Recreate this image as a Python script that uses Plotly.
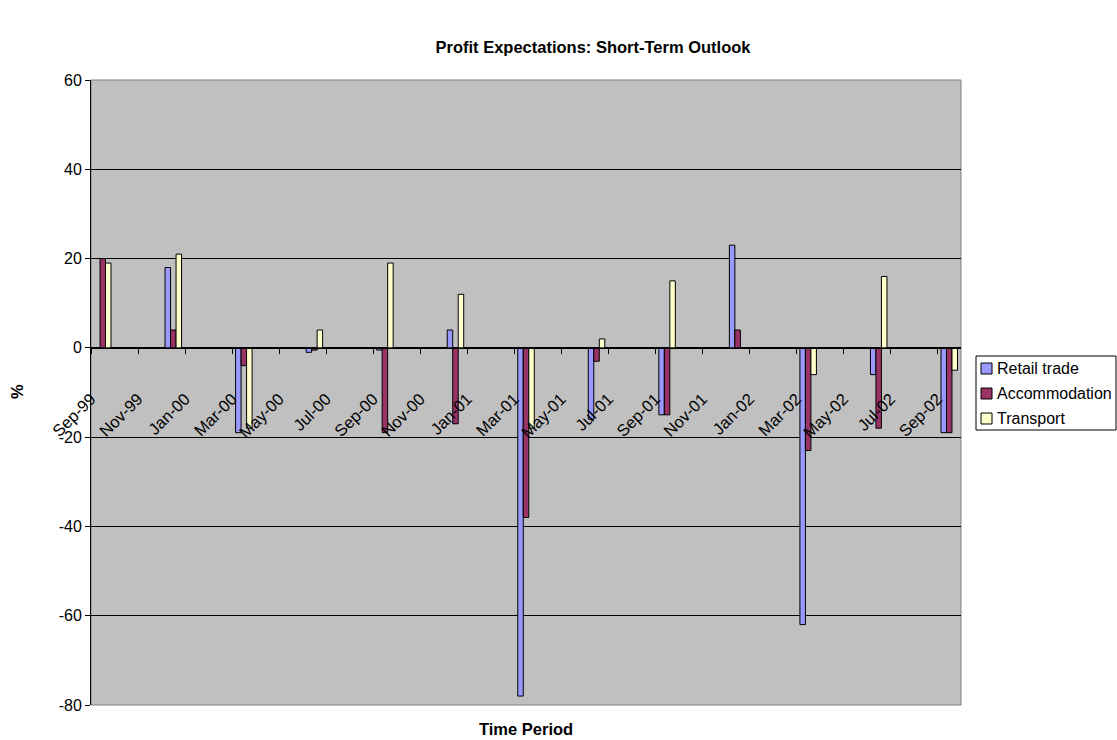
import plotly.graph_objects as go

# Survey quarters and net balance (%) by industry
quarters = ["Sep-99", "Dec-99", "Mar-00", "Jun-00", "Sep-00", "Dec-00", "Mar-01",
            "Jun-01", "Sep-01", "Dec-01", "Mar-02", "Jun-02", "Sep-02"]
retail_trade = [None, 18, -19, -1, -0.5, 4, -78, -16, -15, 23, -62, -6, -19]
accommodation = [20, 4, -4, -0.5, -19, -17, -38, -3, -15, 4, -23, -18, -19]
transport = [19, 21, -18, 4, 19, 12, -18, 2, 15, None, -6, 16, -5]

# Axis labels every second month
tick_labels = ["Sep-99", "Nov-99", "Jan-00", "Mar-00", "May-00", "Jul-00", "Sep-00",
               "Nov-00", "Jan-01", "Mar-01", "May-01", "Jul-01", "Sep-01", "Nov-01",
               "Jan-02", "Mar-02", "May-02", "Jul-02", "Sep-02"]

# Value axis ticks
y_ticks = [-80, -60, -40, -20, 0, 20, 40, 60]
y_tick_labels = ["-80", "-60", "-40", "-20", "0", "20", "40", "60"]

series = [
    ("Retail trade", retail_trade, "#9999FF"),
    ("Accommodation", accommodation, "#993366"),
    ("Transport", transport, "#FFFFCC"),
]

MONTHS = ["Jan", "Feb", "Mar", "Apr", "May", "Jun", "Jul", "Aug", "Sep", "Oct", "Nov", "Dec"]


def month_index(label):
    """Months elapsed since Sep-99 for a 'Mon-YY' label."""
    mon, yy = label.split("-")
    year = 1900 + int(yy) if int(yy) > 50 else 2000 + int(yy)
    return (year - 1999) * 12 + MONTHS.index(mon) - 8


x_pos = [month_index(q) for q in quarters]
tick_pos = [month_index(t) - 0.5 for t in tick_labels]

# Figure geometry (pixels)
W, H = 1117, 740
L, R, T, B = 91, 961, 80, 705
Y_MIN, Y_MAX = -80, 60


def px_x(px):
    return (px - L) / (R - L)


def px_y(py):
    return (B - py) / (B - T)


FONT = "Arial, Liberation Sans, sans-serif"

fig = go.Figure()

bar_w = 0.234
for i, (name, vals, color) in enumerate(series):
    fig.add_trace(go.Bar(
        x=x_pos, y=vals, name=name,
        width=bar_w, offset=-1.5 * bar_w + i * bar_w,
        marker=dict(color=color, line=dict(color="black", width=1)),
        showlegend=False,
    ))

shapes = [
    # plot-area frame
    dict(type="rect", xref="paper", yref="paper", x0=0, x1=1, y0=0, y1=1,
         line=dict(color="#808080", width=1), layer="below"),
    # legend box
    dict(type="rect", xref="paper", yref="paper",
         x0=px_x(976), x1=px_x(1116), y0=px_y(430), y1=px_y(356),
         line=dict(color="black", width=1), fillcolor="white"),
]

annotations = [
    dict(text="<b>Time Period</b>", xref="paper", yref="paper",
         x=px_x(526), y=px_y(729), xanchor="center", yanchor="middle",
         showarrow=False, font=dict(family=FONT, size=16.5, color="black")),
    dict(text="<b>%</b>", xref="paper", yref="paper",
         x=px_x(17), y=px_y(392), xanchor="center", yanchor="middle", textangle=-90,
         showarrow=False, font=dict(family=FONT, size=16.5, color="black")),
]

row_centers = [368.5, 393.5, 418.5]
for (name, _, color), cy in zip(series, row_centers):
    shapes.append(dict(type="rect", xref="paper", yref="paper",
                       x0=px_x(981), x1=px_x(992), y0=px_y(cy + 5.5), y1=px_y(cy - 5.5),
                       line=dict(color="black", width=1), fillcolor=color))
    annotations.append(dict(text=name, xref="paper", yref="paper",
                            x=px_x(995), y=px_y(cy), xanchor="left", yanchor="middle",
                            showarrow=False,
                            font=dict(family=FONT, size=16, color="black")))

fig.update_layout(
    width=W, height=H,
    margin=dict(l=L, r=W - R, t=T, b=H - B, pad=0),
    paper_bgcolor="white",
    plot_bgcolor="#C0C0C0",
    barmode="overlay",
    title=dict(text="<b>Profit Expectations: Short-Term Outlook</b>",
               x=593 / W, xanchor="center", xref="container",
               y=1 - 47 / H, yanchor="middle", yref="container",
               font=dict(family=FONT, size=16.5, color="black")),
    xaxis=dict(
        range=[-0.5, 36.5],
        tickmode="array", tickvals=tick_pos, ticktext=tick_labels,
        tickangle=-45,
        anchor="free", position=(0 - Y_MIN) / (Y_MAX - Y_MIN),
        showline=True, linecolor="black", linewidth=1,
        ticks="outside", ticklen=5, tickcolor="black",
        ticklabelstandoff=29,
        showgrid=False, zeroline=False,
        tickfont=dict(family=FONT, size=16.5, color="black"),
    ),
    yaxis=dict(
        range=[Y_MIN, Y_MAX],
        tickmode="array", tickvals=y_ticks, ticktext=y_tick_labels,
        showline=True, linecolor="black", linewidth=1,
        ticks="outside", ticklen=5, tickcolor="black",
        showgrid=True, gridcolor="black", gridwidth=1,
        zeroline=False,
        tickfont=dict(family=FONT, size=16, color="black"),
    ),
    shapes=shapes,
    annotations=annotations,
)

fig.write_html("out.html")
